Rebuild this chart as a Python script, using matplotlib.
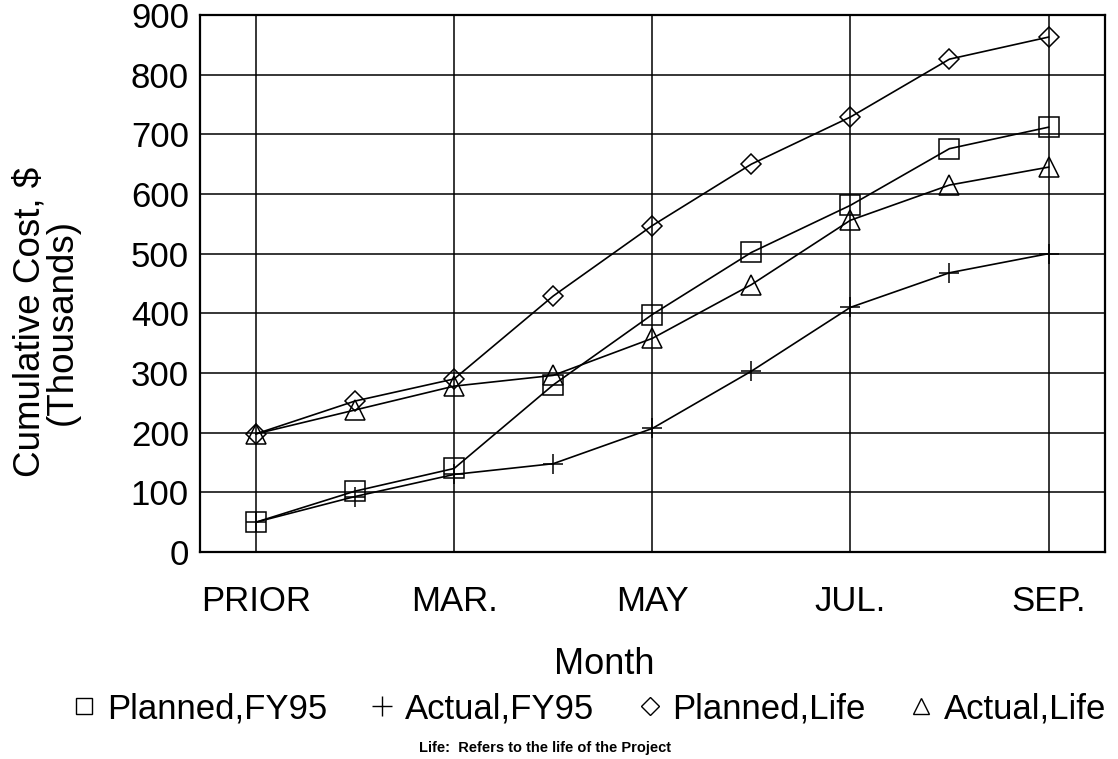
import matplotlib
matplotlib.use("Agg")
import matplotlib.pyplot as plt
from matplotlib.lines import Line2D

plt.rcParams["font.family"] = ["Liberation Sans", "DejaVu Sans"]

# Monthly points: PRIOR, Feb..Sep (only every other month is labelled)
x_pos = [0, 1, 2, 3, 4, 5, 6, 7, 8]
tick_pos = [0, 2, 4, 6, 8]
tick_labels = ["PRIOR", "MAR.", "MAY", "JUL.", "SEP."]

planned_fy95 = [50, 102, 140, 280, 398, 502, 581, 676, 712]
actual_fy95 = [50, 93, 130, 148, 207, 303, 410, 468, 500]
planned_life = [198, 253, 290, 429, 547, 650, 729, 826, 863]
actual_life = [198, 238, 278, 296, 358, 448, 556, 615, 645]

series_names = ["Planned,FY95", "Actual,FY95", "Planned,Life", "Actual,Life"]

# marker, plot size, legend size
STYLES = [("s", 14, 12), ("+", 14, 14), ("D", 10, 9), ("^", 14, 11)]

fig = plt.figure(figsize=(11.18, 7.59), dpi=100)
ax = fig.add_axes([200 / 1118, 1 - 552 / 759, 905 / 1118, 537 / 759])

handles = []
for vals, name, (mk, ms, ms_leg) in zip(
        [planned_fy95, actual_fy95, planned_life, actual_life], series_names, STYLES):
    ax.plot(x_pos, vals, color="black", linewidth=1.2, marker=mk, markersize=ms,
            markerfacecolor="none", markeredgecolor="black", markeredgewidth=1.1,
            zorder=3)
    handles.append(Line2D([], [], linestyle="none", marker=mk, markersize=ms_leg,
                          markerfacecolor="none", markeredgecolor="black",
                          markeredgewidth=1.0, label=name))

ax.set_xlim(-0.565, 8.57)
ax.set_ylim(0, 900)
ax.set_yticks(range(0, 901, 100))
ax.set_xticks(tick_pos)
ax.set_xticklabels(tick_labels)
ax.grid(True, color="black", linewidth=1.1, zorder=0)
ax.set_axisbelow(True)
ax.tick_params(axis="both", length=0, labelsize=25, colors="black")
ax.tick_params(axis="x", pad=24)
ax.tick_params(axis="y", pad=8)
for sp in ax.spines.values():
    sp.set_linewidth(1.6)
    sp.set_color("black")

# y label (two lines) and the labels under the plot
fig.text(46 / 1118, 1 - 322 / 759, "Cumulative Cost, $\n(Thousands)", rotation=90,
         ha="center", va="center", fontsize=26.5, multialignment="center",
         linespacing=0.92)
fig.text(604 / 1118, 1 - 665 / 759, "Month", ha="center", va="center", fontsize=26)

fig.legend(handles=handles, loc="center", bbox_to_anchor=(590 / 1118, 1 - 709 / 759),
           ncol=4, frameon=False, fontsize=25, handlelength=0.6,
           handletextpad=0.35, columnspacing=1.3, borderpad=0, borderaxespad=0)

fig.text(545 / 1118, 1 - 748 / 759, "Life:  Refers to the life of the Project",
         ha="center", va="center", fontsize=10.5, fontweight="bold")

fig.savefig("out.png", dpi=100)
